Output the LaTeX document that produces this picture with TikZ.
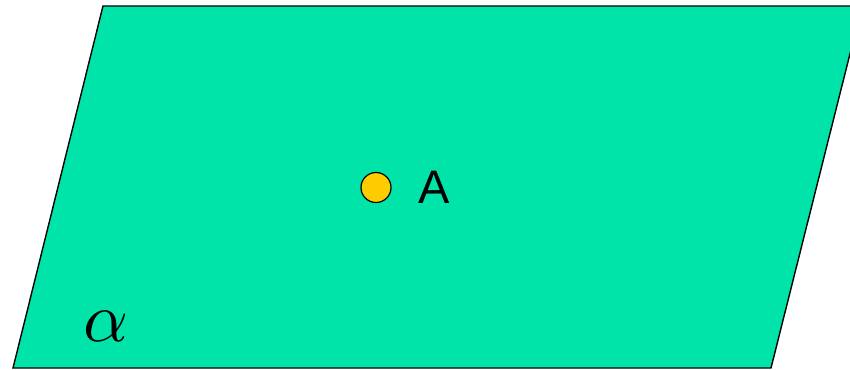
\documentclass[tikz,border=0pt]{standalone}
\usepackage{fontspec}
\newfontfamily\labelfont{Liberation Sans}
\usetikzlibrary{positioning}
\definecolor{planegreen}{RGB}{0,228,170}
\definecolor{pointyellow}{RGB}{255,204,0}

\begin{document}
\begin{tikzpicture}[
  x=1pt, y=-1pt,
  plane/.style={draw, fill=planegreen, line width=1.4pt, line join=miter},
  pt/.style={circle, draw, fill=pointyellow, line width=1.2pt, minimum size=30pt, inner sep=0pt},
  ptlabel/.style={font=\labelfont\fontsize{47}{47}\selectfont, inner sep=0pt}
]
\useasboundingbox (0,0) rectangle (850,369);
\begin{scope}
\clip (0,0) rectangle (850,369);
\draw[plane] (103,6) coordinate (tl) -- (862,6) coordinate (tr)
  -- (771,368) coordinate (br) -- (13,368) coordinate (bl) -- cycle;
\end{scope}
\node[pt] (A) at (376,187.5) {};
\node[ptlabel, right=27pt of A] (Alabel) {A};
\node[inner sep=0pt, scale=7] (alpha) at (106,326) {$\alpha$};
\end{tikzpicture}
\end{document}
